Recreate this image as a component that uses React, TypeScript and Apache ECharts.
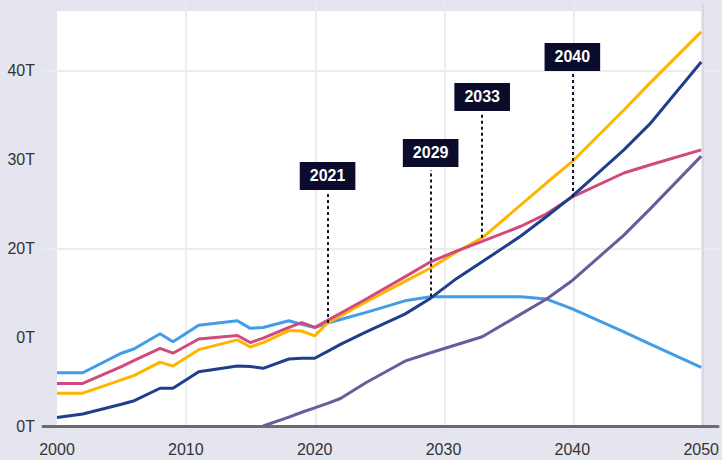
import { useEffect, useRef } from 'react';
import * as echarts from 'echarts';

const YEARS = [2000, 2002, 2005, 2006, 2008, 2009, 2011, 2014, 2015, 2016, 2018, 2019, 2020, 2021, 2022, 2024, 2027, 2029, 2031, 2033, 2036, 2038, 2040, 2044, 2046, 2050];
const LIGHT_BLUE = [6.0, 6.0, 8.2, 8.7, 10.4, 9.5, 11.35, 11.85, 11.0, 11.1, 11.85, 11.45, 11.1, 11.6, 12.0, 12.8, 14.1, 14.55, 14.55, 14.55, 14.55, 14.3, 13.2, 10.6, 9.25, 6.6];
const PINK = [4.8, 4.8, 6.7, 7.4, 8.75, 8.2, 9.8, 10.2, 9.4, 9.9, 11.1, 11.65, 11.1, 11.9, 12.7, 14.3, 16.8, 18.5, 19.7, 20.8, 22.5, 23.9, 25.8, 28.5, 29.4, 31.1];
const YELLOW = [3.7, 3.7, 5.2, 5.7, 7.2, 6.75, 8.6, 9.7, 8.9, 9.4, 10.75, 10.7, 10.15, 11.6, 12.4, 14.0, 16.3, 17.8, 19.6, 21.2, 24.9, 27.4, 29.8, 35.6, 38.6, 44.4];
const DARK_BLUE = [0.95, 1.35, 2.45, 2.85, 4.25, 4.25, 6.1, 6.76, 6.7, 6.5, 7.55, 7.63, 7.63, 8.4, 9.2, 10.6, 12.6, 14.4, 16.6, 18.5, 21.4, 23.6, 25.9, 31.1, 34.0, 41.0];
const PURPLE = [null, null, null, null, null, null, null, null, null, 0, 1.0, 1.55, 2.05, 2.55, 3.1, 4.9, 7.3, 8.25, 9.15, 10.05, 12.6, 14.3, 16.4, 21.5, 24.4, 30.4];

const Y_TICK_LABELS = ['0T', '0T', '20T', '30T', '40T'];
const X_MIN = 2000;
const X_MAX = 2050;
const Y_MAX = 46.75;

const ANN_YEARS = [2021, 2029, 2033, 2040];
const ANN_LOW = [11.6, 14.6, 21.2, 25.8];
const ANN_HIGH = [26.25, 28.85, 35.15, 39.66];

const FONT = 'Liberation Sans, Arial, sans-serif';

function pairs(vals: (number | null)[]) {
  const out: [number, number][] = [];
  YEARS.forEach((y, i) => {
    const v = vals[i];
    if (v !== null && v !== undefined) out.push([y, v]);
  });
  return out;
}

export default function App() {
  const ref = useRef<HTMLDivElement>(null);
  useEffect(() => {
    if (!ref.current) return;
    const chart = echarts.init(ref.current, undefined, { renderer: 'svg' });
    const lineSeries = (name: string, vals: (number | null)[], color: string, extra: any = {}) => ({
      name,
      type: 'line',
      data: pairs(vals),
      showSymbol: false,
      symbol: 'none',
      lineStyle: { color, width: 3 },
      itemStyle: { color },
      xAxisIndex: 0,
      yAxisIndex: 0,
      z: 3,
      ...extra,
    });
    chart.setOption({
      animation: false,
      backgroundColor: '#e5e5ef',
      grid: [
        { left: 57, right: 19, top: 11, bottom: 34, show: true, backgroundColor: '#ffffff', borderWidth: 0 },
        { left: 43, right: 4, top: 11, bottom: 34, show: false },
        { left: 57, right: 19, top: 3, bottom: 34, show: false },
      ],
      xAxis: [
        {
          type: 'value', gridIndex: 0, min: X_MIN, max: X_MAX, interval: 10,
          axisLine: { show: false }, axisTick: { show: false }, splitLine: { show: false },
          axisLabel: { color: '#333', fontSize: 16, fontFamily: FONT, margin: 15, formatter: (v: number) => String(v) },
        },
        {
          type: 'value', gridIndex: 1, min: 0, max: 1,
          axisLine: { show: true, lineStyle: { color: '#6b6b6b', width: 3 } },
          axisTick: { show: false }, axisLabel: { show: false }, splitLine: { show: false },
          z: 5,
        },
        {
          type: 'value', gridIndex: 2, min: X_MIN, max: X_MAX, interval: 10,
          axisLine: { show: false }, axisTick: { show: false }, axisLabel: { show: false },
          splitLine: {
            show: true,
            lineStyle: { color: ['rgba(0,0,0,0)', '#ececec', '#ececec', '#ececec', '#ececec', '#d8d8e4'], width: 2 },
          },
        },
      ],
      yAxis: [
        {
          type: 'value', gridIndex: 0, min: 0, max: Y_MAX, interval: 10,
          axisLine: { show: false }, axisTick: { show: false }, splitLine: { show: false },
          axisLabel: {
            color: '#333', fontSize: 16, fontFamily: FONT, margin: 22, showMaxLabel: false,
            formatter: (v: number) => {
              const idx = Math.round(v / 10);
              return Math.abs(v - idx * 10) < 1e-6 && Y_TICK_LABELS[idx] !== undefined ? Y_TICK_LABELS[idx] : '';
            },
          },
        },
        {
          type: 'value', gridIndex: 1, min: 0, max: Y_MAX, interval: 20,
          axisLine: { show: false }, axisTick: { show: false }, axisLabel: { show: false },
          splitLine: {
            show: true,
            lineStyle: { color: ['rgba(0,0,0,0)', '#ececec', '#ececec', 'rgba(0,0,0,0)'], width: 2 },
          },
        },
        {
          type: 'value', gridIndex: 2, min: 0, max: 1,
          axisLine: { show: false }, axisTick: { show: false }, axisLabel: { show: false }, splitLine: { show: false },
        },
      ],
      series: [
        lineSeries('A', LIGHT_BLUE, '#439ce6', {
          markLine: {
            silent: true,
            symbol: ['none', 'none'],
            animation: false,
            lineStyle: { color: '#14142b', width: 2, type: [3, 3] },
            label: {
              show: true, position: 'end', distance: 3, formatter: '{b}',
              color: '#ffffff', fontWeight: 'bold', fontSize: 16, fontFamily: FONT,
              backgroundColor: '#0b0b2c', padding: [6, 10], lineHeight: 16,
            },
            emphasis: { disabled: true },
            data: ANN_YEARS.map((yr, i) => [
              { name: String(yr), coord: [yr, ANN_LOW[i]] },
              { name: String(yr), coord: [yr, ANN_HIGH[i]] },
            ]),
          },
        }),
        lineSeries('E', PURPLE, '#6a5c9c'),
        lineSeries('C', YELLOW, '#ffb500'),
        lineSeries('B', PINK, '#d24a7b'),
        lineSeries('D', DARK_BLUE, '#1f3f8c'),
      ],
    });
    return () => chart.dispose();
  }, []);
  return <div ref={ref} style={{ position: 'fixed', left: 0, top: 0, width: 722, height: 460 }} />;
}
